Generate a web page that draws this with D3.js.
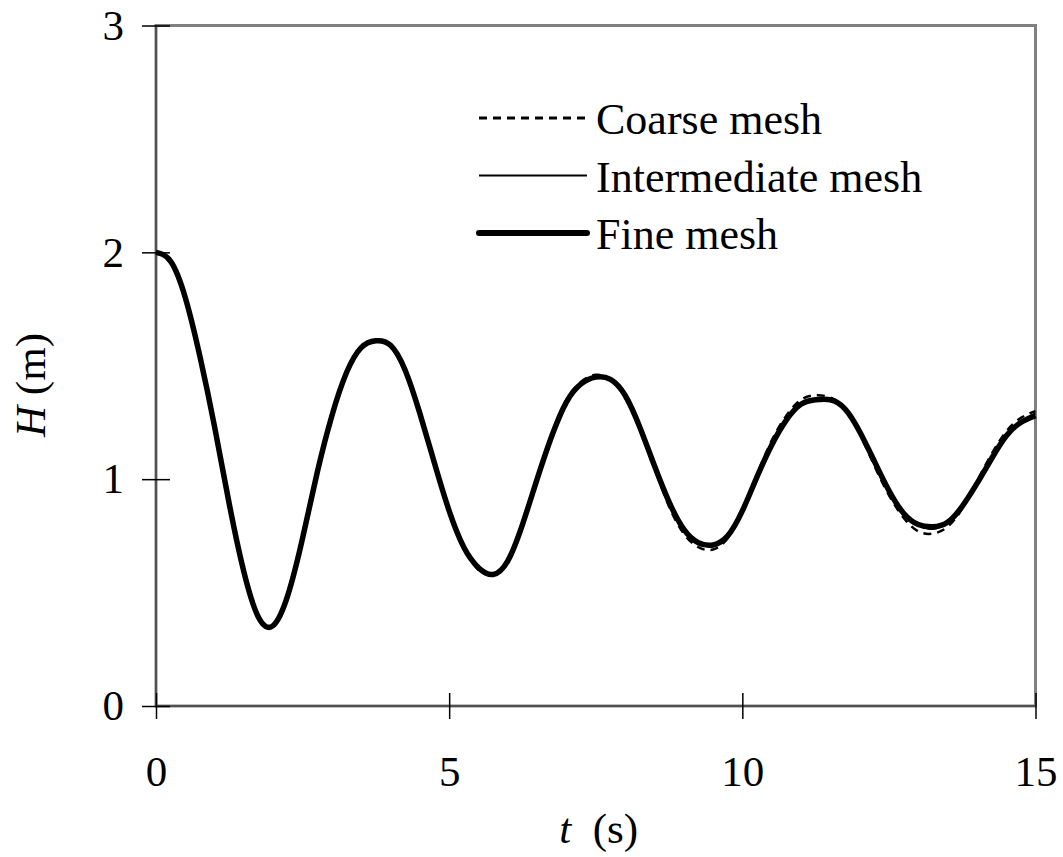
<!DOCTYPE html>
<html>
<head>
<meta charset="utf-8">
<script src="https://cdn.jsdelivr.net/npm/d3@7"></script>
<style>
  body { margin: 0; background: #fff; }
  text { font-family: "Liberation Serif", "Times New Roman", serif; fill: #000; }
  .tick line { stroke: #000; stroke-width: 1.5; }
  .domain { display: none; }
</style>
</head>
<body>
<div id="chart"></div>
<script>
// time samples (s)
var times = d3.range(0, 15.001, 0.25);
// water level H (m)
var fineH = [2.00, 1.96, 1.80, 1.54, 1.23, 0.89, 0.59, 0.39, 0.355, 0.49, 0.74, 1.03, 1.28, 1.47, 1.58, 1.61,
             1.59, 1.48, 1.29, 1.07, 0.86, 0.70, 0.61, 0.58, 0.64, 0.80, 1.00, 1.19, 1.34, 1.42, 1.45,
             1.44, 1.37, 1.23, 1.06, 0.90, 0.78, 0.72, 0.71, 0.75, 0.86, 1.01, 1.15, 1.26, 1.33, 1.35,
             1.35, 1.31, 1.21, 1.08, 0.95, 0.85, 0.80, 0.79, 0.81, 0.88, 0.98, 1.09, 1.19, 1.25, 1.28];
var intermediateH = [2.00, 1.96, 1.80, 1.54, 1.23, 0.89, 0.59, 0.39, 0.355, 0.49, 0.74, 1.03, 1.28, 1.47, 1.58, 1.61,
             1.59, 1.48, 1.29, 1.07, 0.86, 0.70, 0.61, 0.58, 0.64, 0.80, 1.00, 1.19, 1.34, 1.42, 1.45,
             1.44, 1.37, 1.23, 1.06, 0.90, 0.78, 0.72, 0.71, 0.75, 0.86, 1.01, 1.15, 1.26, 1.33, 1.35,
             1.35, 1.31, 1.21, 1.08, 0.95, 0.85, 0.80, 0.78, 0.81, 0.88, 0.98, 1.09, 1.19, 1.25, 1.29];
var coarseH = [2.00, 1.96, 1.80, 1.54, 1.23, 0.89, 0.59, 0.39, 0.355, 0.49, 0.74, 1.03, 1.28, 1.47, 1.58, 1.61,
             1.59, 1.48, 1.29, 1.07, 0.86, 0.70, 0.60, 0.58, 0.64, 0.80, 1.00, 1.20, 1.35, 1.43, 1.46,
             1.44, 1.36, 1.22, 1.05, 0.88, 0.76, 0.70, 0.69, 0.74, 0.86, 1.02, 1.17, 1.28, 1.35, 1.37,
             1.36, 1.31, 1.20, 1.06, 0.93, 0.83, 0.77, 0.76, 0.79, 0.87, 0.99, 1.11, 1.21, 1.27, 1.30];
var xTicks = [0, 5, 10, 15];
var yTicks = [0, 1, 2, 3];
var legendNames = ["Coarse mesh", "Intermediate mesh", "Fine mesh"];

var width = 1063, height = 857;
var margin = { top: 25.5, right: 27.5, bottom: 151, left: 156 };

var svg = d3.select('#chart').append('svg')
            .attr('width', width)
            .attr('height', height);

var x = d3.scaleLinear().domain([0, 15]).range([margin.left, width - margin.right]);
var y = d3.scaleLinear().domain([0, 3]).range([height - margin.bottom, margin.top]);

// plot frame
svg.append('rect')
   .attr('x', x(0)).attr('y', y(3))
   .attr('width', x(15) - x(0)).attr('height', y(0) - y(3))
   .attr('fill', 'none').attr('stroke', '#808080').attr('stroke-width', 3);
svg.append('line').attr('x1', x(0)).attr('x2', x(0)).attr('y1', y(3)).attr('y2', y(0))
   .attr('stroke', '#222').attr('stroke-width', 1);
svg.append('line').attr('x1', x(0)).attr('x2', x(15)).attr('y1', y(0)).attr('y2', y(0))
   .attr('stroke', '#222').attr('stroke-width', 1);

// axes (cross ticks)
var xAxis = d3.axisBottom(x).tickValues(xTicks).tickSize(13).tickPadding(36).tickFormat(d3.format('d'));
var gx = svg.append('g').attr('transform', 'translate(0,' + y(0) + ')').call(xAxis);
gx.selectAll('.tick line').attr('y1', -13);
gx.selectAll('text').style('font-size', '43px');

var yAxis = d3.axisLeft(y).tickValues(yTicks).tickSize(14).tickPadding(18).tickFormat(d3.format('d'));
var gy = svg.append('g').attr('transform', 'translate(' + x(0) + ',0)').call(yAxis);
gy.selectAll('.tick line').attr('x1', 14);
gy.selectAll('text').style('font-size', '43px');

// axis titles
var yt = svg.append('text')
   .attr('transform', 'translate(45,385) rotate(-90)')
   .attr('text-anchor', 'middle').style('font-size', '43px');
yt.append('tspan').style('font-style', 'italic').text('H');
yt.append('tspan').text('\u00a0(m)');

var xt = svg.append('text')
   .attr('x', (x(0) + x(15)) / 2 + 3).attr('y', 843)
   .attr('text-anchor', 'middle').style('font-size', '43px');
xt.append('tspan').style('font-style', 'italic').text('t');
xt.append('tspan').text('\u00a0\u00a0(s)');

// series
var styles = [
  { data: coarseH, width: 2.5, dash: '8,6' },
  { data: intermediateH, width: 2, dash: null },
  { data: fineH, width: 5.5, dash: null }
];
var line = d3.line().curve(d3.curveNatural)
             .x(function(d){ return x(d[0]); })
             .y(function(d){ return y(d[1]); });

styles.forEach(function(s) {
  svg.append('path')
     .datum(times.map(function(t, i){ return [t, s.data[i]]; }))
     .attr('fill', 'none')
     .attr('stroke', '#000')
     .attr('stroke-width', s.width)
     .attr('stroke-dasharray', s.dash)
     .attr('d', line);
});

// legend
var legend = svg.append('g');
legendNames.forEach(function(name, i) {
  var ly = 118 + i * 57.5;
  legend.append('line')
        .attr('x1', 479).attr('x2', 587).attr('y1', ly).attr('y2', ly)
        .attr('stroke', '#000')
        .attr('stroke-width', i === 2 ? 6 : (i === 1 ? 2 : 3))
        .attr('stroke-dasharray', styles[i].dash)
        .attr('stroke-linecap', i === 2 ? 'round' : 'butt');
  legend.append('text')
        .attr('x', 596).attr('y', ly + 16)
        .style('font-size', '44px')
        .text(name);
});
</script>
</body>
</html>
